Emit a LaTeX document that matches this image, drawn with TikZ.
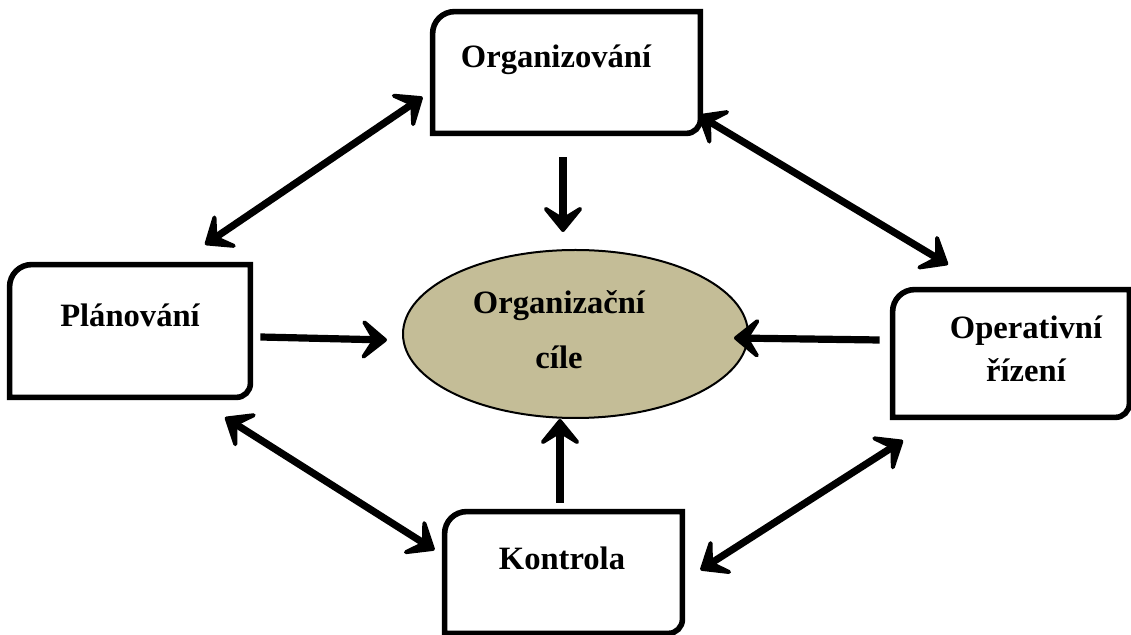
\documentclass[tikz,border=0pt]{standalone}
\usepackage{fontspec}
\setmainfont{Liberation Serif}
\usetikzlibrary{arrows.meta,shapes.geometric}

\definecolor{goaltan}{RGB}{196,189,151}

\tikzset{
  box/.style={shape=rectangle,inner sep=0pt,draw=none},
  frame/.style={line width=2.8pt,line join=miter},
  lbl/.style={font=\bfseries\fontsize{16.3}{21.5}\selectfont,inner sep=0pt,align=center},
  arr/.style={line width=3.6pt,arrows={-Stealth[round,length=16pt,width=26pt,inset=8pt]}},
  dblarr/.style={line width=3.6pt,arrows={Stealth[round,length=16pt,width=26pt,inset=8pt]-Stealth[round,length=16pt,width=26pt,inset=8pt]}}
}

\begin{document}
\begin{tikzpicture}[x=0.5pt,y=-0.5pt]
      \useasboundingbox (0,0) rectangle (1131,635);
      % boxes
      \node[box,minimum width=133.5pt,minimum height=60.5pt] (org) at (566.5,72.5) {};
      \node[box,minimum width=120pt,minimum height=66pt] (plan) at (130,331) {};
      \node[box,minimum width=118pt,minimum height=63.5pt] (oper) at (1011,353.5) {};
      \node[box,minimum width=118.5pt,minimum height=60.5pt] (kon) at (563.5,572.5) {};
      \node[ellipse,draw,line width=1pt,fill=goaltan,minimum width=172.5pt,minimum height=84pt] (goal) at (575.5,334) {};
      \foreach \n in {org,plan,oper,kon}
        \draw[frame] (\n.north east) -- ([yshift=7pt]\n.south east)
          arc[start angle=0,end angle=-90,radius=7pt] -- (\n.south west)
          -- ([yshift=-11pt]\n.north west) arc[start angle=180,end angle=90,radius=11pt] -- cycle;
      % texts
      \node[lbl,anchor=base] (org-t) at (556,68) {Organizování};
      \node[lbl,anchor=base] (plan-t) at (130,327) {Plánování};
      \node[lbl,anchor=base] (kon-t) at (562,570) {Kontrola};
      \node[lbl] (oper-t) at (1026,349) {Operativní\\[0pt]řízení};
      \node[lbl] (goal-t) at (559,330) {Organizační\\[6pt]cíle};
      % arrows
      \draw[dblarr] ([shift={(-10,24.5)}]org.west) -- ([shift={(75,-20)}]plan.north);
      \draw[dblarr] ([shift={(-2,42.5)}]org.east) -- ([shift={(-63,-25)}]oper.north);
      \draw[arr] ([shift={(-3.5,24)}]org.south) -- ([shift={(-12.5,-17)}]goal.north);
      \draw[arr] ([shift={(10,6)}]plan.east) -- ([shift={(-15,6)}]goal.west);
      \draw[arr] ([shift={(-13,-13.5)}]oper.west) -- ([shift={(-15,4)}]goal.east);
      \draw[arr] ([shift={(-3.5,-9)}]kon.north) -- ([shift={(-15.5,0)}]goal.south);
      \draw[dblarr] ([shift={(95,20)}]plan.south) -- ([shift={(-10,-22.5)}]kon.west);
      \draw[dblarr] ([shift={(-108,23)}]oper.south) -- ([shift={(18,-2.5)}]kon.east);
\end{tikzpicture}
\end{document}
